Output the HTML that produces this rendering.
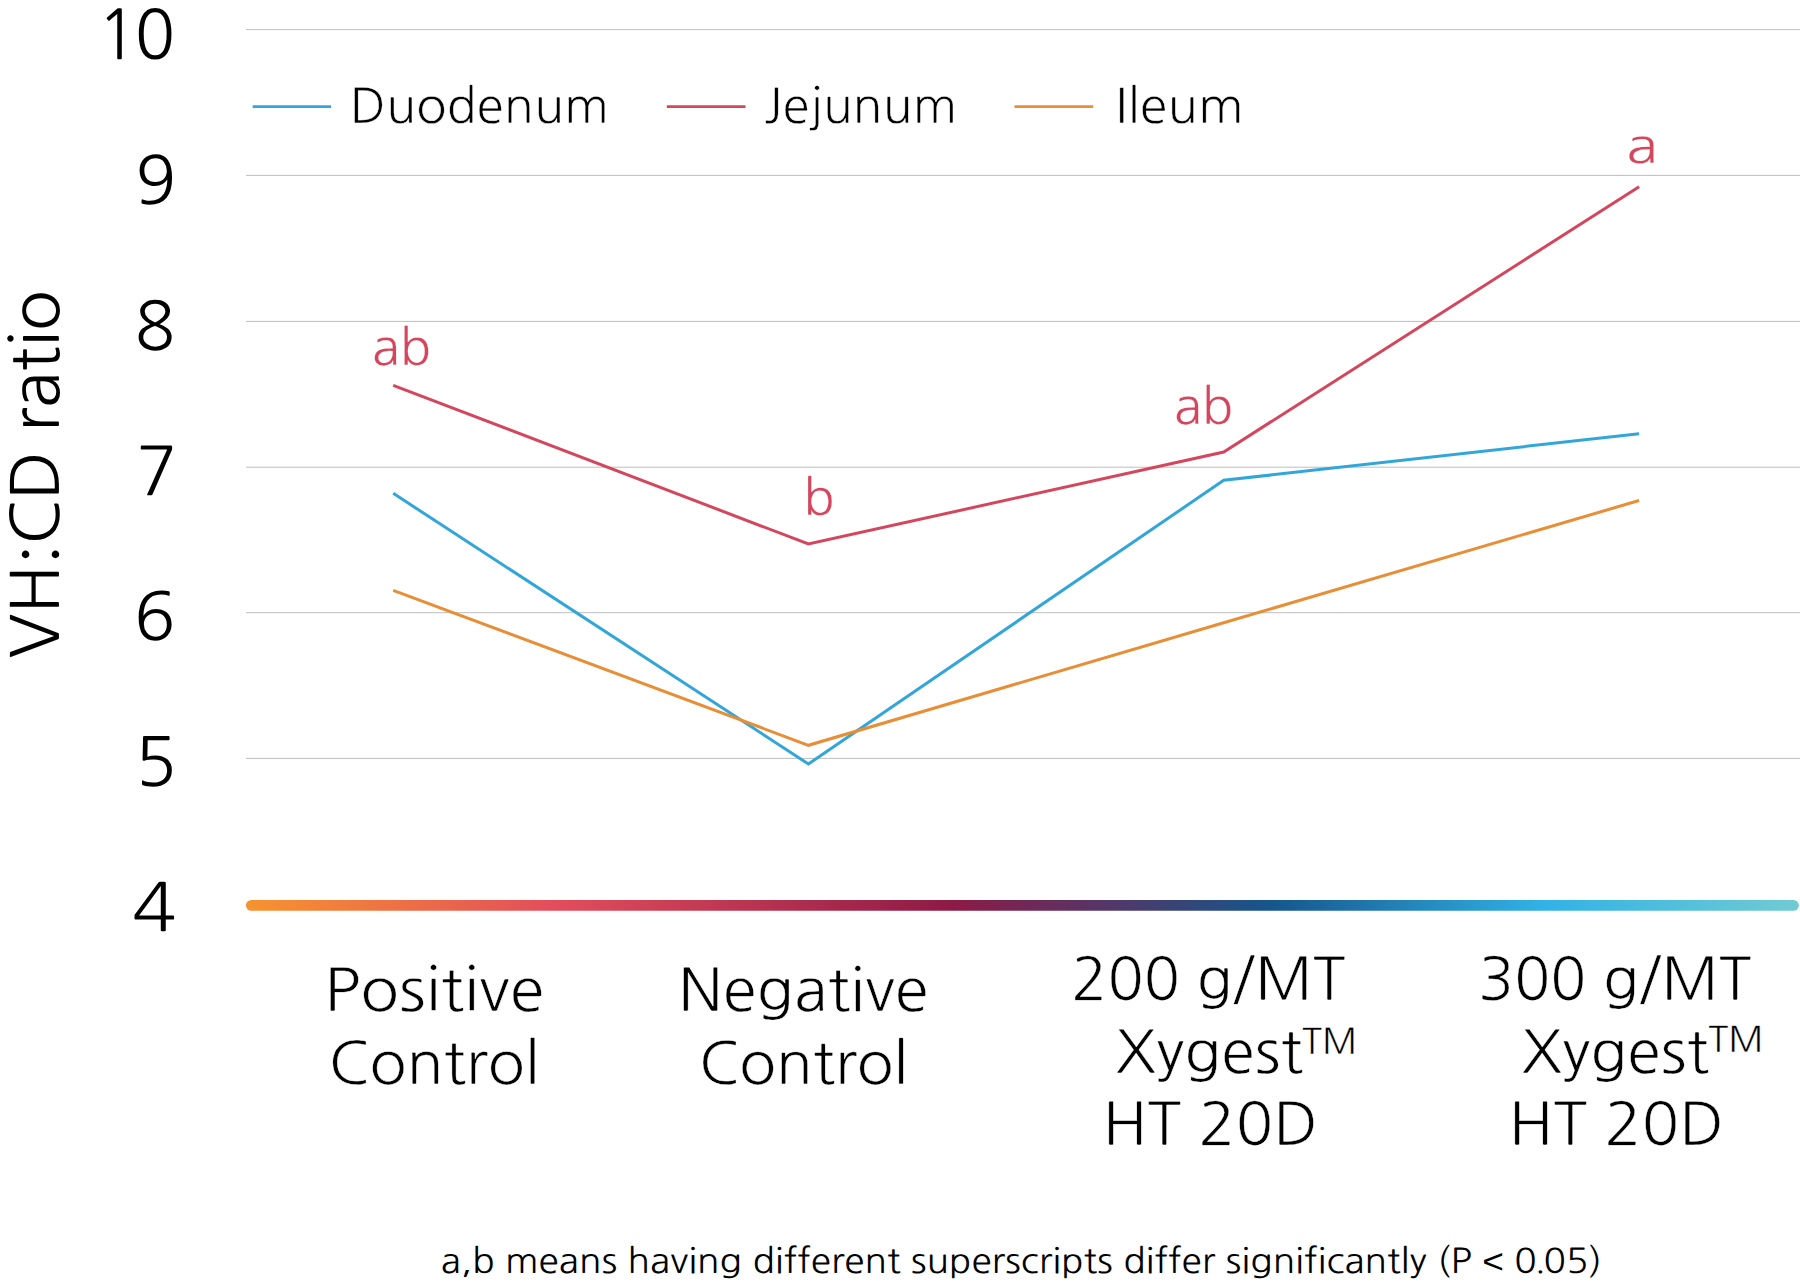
<!DOCTYPE html>
<html lang="en"><head><meta charset="utf-8"><title>VH:CD ratio chart</title>
<style>html,body{margin:0;padding:0;background:#fff}body{width:1800px;height:1284px;overflow:hidden}svg{display:block}.t text{font-family:NanumGothic, 'Liberation Sans', sans-serif;white-space:pre;text-rendering:geometricPrecision}</style></head>
<body>
<svg width="1800" height="1284" viewBox="0 0 1800 1284">
<defs><linearGradient id="g" x1="0" y1="0" x2="1" y2="0">
<stop offset="0" stop-color="#f7932f"/>
<stop offset="0.2" stop-color="#e24d5c"/>
<stop offset="0.455" stop-color="#8d1a46"/>
<stop offset="0.66" stop-color="#15568b"/>
<stop offset="0.835" stop-color="#31b2e6"/>
<stop offset="1" stop-color="#70cbd2"/>
</linearGradient></defs>
<g stroke="#bebebe" stroke-width="1.0">
<line x1="246.0" y1="29.6" x2="1800" y2="29.6"/>
<line x1="246.0" y1="175.4" x2="1800" y2="175.4"/>
<line x1="246.0" y1="321.4" x2="1800" y2="321.4"/>
<line x1="246.0" y1="467.2" x2="1800" y2="467.2"/>
<line x1="246.0" y1="612.7" x2="1800" y2="612.7"/>
<line x1="246.0" y1="758.4" x2="1800" y2="758.4"/>
</g>
<line x1="252.7" y1="106.65" x2="331.0" y2="106.65" stroke="#32a6d8" stroke-width="2.7"/>
<line x1="666.8" y1="106.65" x2="745.5" y2="106.65" stroke="#d4465d" stroke-width="2.7"/>
<line x1="1014.5" y1="106.65" x2="1093.2" y2="106.65" stroke="#e78e36" stroke-width="2.7"/>
<polyline points="393.2,493.3 808.4,764.0 1223.7,480.3 1639.1,433.7" fill="none" stroke="#32a6d8" stroke-width="3.0" stroke-linejoin="miter"/>
<polyline points="393.2,590.3 808.4,745.3 1223.7,622.7 1639.1,500.5" fill="none" stroke="#e78e36" stroke-width="3.0" stroke-linejoin="miter"/>
<polyline points="393.2,385.3 808.4,544.0 1223.7,452.0 1639.1,186.7" fill="none" stroke="#d4465d" stroke-width="3.0" stroke-linejoin="miter"/>
<rect x="245.9" y="899.95" width="1553.0" height="10.8" rx="5.4" fill="url(#g)"/>
<g class="t" fill="#000" stroke-linejoin="round">
<text transform="translate(97.32,59.33) scale(0.9768,1)" font-size="68.19">1<tspan dx="-2.93">0</tspan></text>
<text transform="translate(135.47,203.60) scale(1.0107,1)" font-size="66.26">9</text>
<text transform="translate(134.80,349.88) scale(0.9908,1)" font-size="67.09">8</text>
<text transform="translate(136.11,494.65) scale(1.0283,1)" font-size="66.63">7</text>
<text transform="translate(134.03,640.20) scale(1.0329,1)" font-size="66.08">6</text>
<text transform="translate(135.00,785.79) scale(1.0296,1)" font-size="67.21">5</text>
<text transform="translate(131.89,930.65) scale(1.1090,1)" font-size="66.19">4</text>
<text transform="translate(58.90,658.43) rotate(-90) scale(1.0108,1)" font-size="66.29">VH<tspan dy="5.83">:</tspan><tspan dy="-5.83">C</tspan>D rat<tspan dy="-2.92">i</tspan><tspan dy="2.92">o</tspan></text>
<text transform="translate(349.80,123.00) scale(1.0368,1)" font-size="48.06" stroke-width="0.43" stroke="#fff">Duodenum</text>
<text transform="translate(764.43,123.00) scale(1.0253,1)" font-size="48.23" stroke-width="0.43" stroke="#fff"><tspan dy="-2.12">J</tspan><tspan dy="2.12">e</tspan><tspan dy="-2.12">j</tspan><tspan dy="2.12">u</tspan>num</text>
<text transform="translate(1115.23,123.00) scale(1.0520,1)" font-size="48.06" stroke-width="0.43" stroke="#fff"><tspan dy="-2.11">I</tspan><tspan dy="2.11">l</tspan>eum</text>
<text transform="translate(371.95,364.70) scale(1.0394,1)" font-size="49.49" fill="#d4465d" stroke-width="0.20" stroke="#fff">ab</text>
<text transform="translate(803.40,515.30) scale(1.0516,1)" font-size="49.01" fill="#d4465d" stroke-width="0.20" stroke="#fff">b</text>
<text transform="translate(1173.94,424.20) scale(1.0446,1)" font-size="49.51" fill="#d4465d" stroke-width="0.20" stroke="#fff">ab</text>
<text transform="translate(1626.33,163.38) scale(1.2166,1)" font-size="47.99" fill="#d4465d" stroke-width="0.19" stroke="#fff">a</text>
<text transform="translate(324.01,1011.00) scale(1.0713,1)" font-size="58.98" stroke-width="0.41" stroke="#fff">Pos<tspan dy="-2.60">i</tspan><tspan dy="2.60">t</tspan><tspan dy="-2.60">i</tspan><tspan dy="2.60">v</tspan>e</text>
<text transform="translate(328.46,1083.60) scale(1.0453,1)" font-size="58.37" stroke-width="0.41" stroke="#fff">Control</text>
<text transform="translate(677.99,1011.20) scale(1.0463,1)" font-size="59.00" stroke-width="0.41" stroke="#fff">Negat<tspan dy="-2.60">i</tspan><tspan dy="2.60">v</tspan>e</text>
<text transform="translate(698.68,1083.50) scale(1.0429,1)" font-size="58.04" stroke-width="0.41" stroke="#fff">Control</text>
<text transform="translate(1071.35,999.90) scale(1.0106,1)" font-size="59.03" stroke-width="0.41" stroke="#fff">200 g/MT</text>
<text transform="translate(1115.38,1072.60) scale(1.0308,1)" font-size="59.20" stroke-width="0.41" stroke="#fff">Xygest</text>
<text transform="translate(1302.08,1053.70) scale(1.0250,1)" font-size="35.53" stroke-width="0.25" stroke="#fff">TM</text>
<text transform="translate(1102.43,1145.00) scale(1.0473,1)" font-size="59.01" stroke-width="0.41" stroke="#fff">HT 20D</text>
<text transform="translate(1478.35,999.90) scale(1.0057,1)" font-size="59.04" stroke-width="0.41" stroke="#fff">300 g/MT</text>
<text transform="translate(1521.38,1072.60) scale(1.0308,1)" font-size="59.20" stroke-width="0.41" stroke="#fff">Xygest</text>
<text transform="translate(1708.37,1051.60) scale(1.0290,1)" font-size="35.48" stroke-width="0.25" stroke="#fff">TM</text>
<text transform="translate(1508.43,1145.00) scale(1.0473,1)" font-size="59.01" stroke-width="0.41" stroke="#fff">HT 20D</text>
<text transform="translate(440.70,1273.30) scale(1.0832,1)" font-size="34.21">a<tspan dy="-1.51">,</tspan><tspan dy="1.51">b</tspan> means hav<tspan dy="-1.51">i</tspan><tspan dy="1.51">n</tspan>g d<tspan dy="-1.51">i</tspan><tspan dy="1.51">f</tspan>ferent superscr<tspan dy="-1.51">i</tspan><tspan dy="1.51">p</tspan>ts d<tspan dy="-1.51">i</tspan><tspan dy="1.51">f</tspan>fer s<tspan dy="-1.51">i</tspan><tspan dy="1.51">g</tspan>n<tspan dy="-1.51">i</tspan><tspan dy="1.51">f</tspan><tspan dy="-1.51">i</tspan><tspan dy="1.51">c</tspan>antly (P <tspan font-family="'Liberation Sans', sans-serif" style="font-family:'Liberation Sans', sans-serif">&lt;</tspan> 0<tspan dx="-2.05" dy="-1.57">.</tspan><tspan dx="-2.05" dy="1.57">0</tspan>5)</text>
</g></svg>
</body></html>
